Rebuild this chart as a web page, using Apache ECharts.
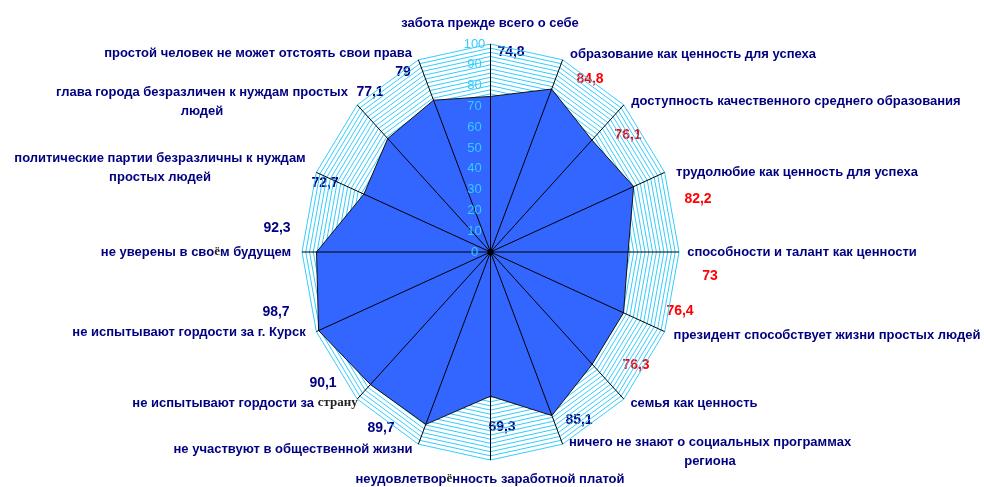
<!DOCTYPE html>
<html>
<head>
<meta charset="utf-8">
<script src="https://cdn.jsdelivr.net/npm/echarts@6/dist/echarts.min.js"></script>
<style>
  html, body { margin: 0; padding: 0; background: #fff; }
  #chart { width: 984px; height: 487px; }
</style>
</head>
<body>
<div id="chart"></div>
<script>
// indicators, clockwise from the top
const names = [
  'забота прежде всего о себе',
  'образование как ценность для успеха',
  'доступность качественного среднего образования',
  'трудолюбие как ценность для успеха',
  'способности и талант как ценности',
  'президент способствует жизни простых людей',
  'семья как ценность',
  'ничего не знают о социальных программах\nрегиона',
  'неудовлетворённость заработной платой',
  'не участвуют в общественной жизни',
  'не испытывают гордости за страну',
  'не испытывают гордости за г. Курск',
  'не уверены в своём будущем',
  'политические партии безразличны к нуждам\nпростых людей',
  'глава города безразличен к нуждам простых\nлюдей',
  'простой человек не может отстоять свои права'
]
const values = [74.8, 84.8, 76.1, 82.2, 73, 76.4, 76.3, 85.1, 69.3, 89.7, 90.1, 98.7, 92.3, 72.7, 77.1, 79]

// scale
const maxValue = 100
const tickStep = 10
const ringStep = 2

// label placement (centre of first line)
const nameAt = [
  [490, 23], [693, 54], [796, 101], [797, 172], [802, 252], [827, 335], [694, 403], [710, 442],
  [490, 479], [293, 449], [245, 403], [189, 332], [196, 252], [160, 158], [202, 92], [258, 53]
]
const valueAt = [
  [511, 52], [590, 79], [628, 135], [698, 199], [710, 276], [680, 311], [636, 365], [579, 420],
  [502, 427], [381, 428], [323, 383], [276, 312], [277, 228], [325, 183], [370, 92], [403, 72]
]
const redValues = [1, 2, 3, 4, 5, 6]

const NAVY = '#000080'
const RED = '#ff0000'
const CYAN = '#33ccff'
const FILL = '#3366ff'

const GRID_W = 377
const chart = echarts.init(document.getElementById('chart'))

// point on spoke i at value v, through the grid's value axes
const pt = (api, i, v) => {
  const a = i * 2 * Math.PI / names.length
  return api.coord([v * Math.sin(a), v * Math.cos(a)])
}

// some words were typed in another font in the original
const richName = s => s.replace('страну', '{s|страну}').replace('ё', '{e|ё}')

const graphics = []
names.forEach((n, i) => {
  graphics.push({
    type: 'text', x: nameAt[i][0], y: nameAt[i][1] - 9.5, silent: true,
    style: {
      text: richName(n), align: 'center', verticalAlign: 'top', lineHeight: 19,
      font: 'bold 13px "Liberation Sans", Arial, sans-serif', fill: NAVY,
      rich: {
        s: { fontFamily: '"Liberation Serif", serif', fontWeight: 'bold', fontSize: 13, fill: '#222', lineHeight: 19 },
        e: { fontFamily: '"Liberation Serif", serif', fontWeight: 'bold', fontSize: 13, fill: '#222', lineHeight: 19 }
      }
    }
  })
  graphics.push({
    type: 'text', x: valueAt[i][0], y: valueAt[i][1], silent: true,
    style: {
      text: String(values[i]).replace('.', ','), align: 'center', verticalAlign: 'middle',
      font: 'bold 14px "Liberation Sans", Arial, sans-serif',
      fill: redValues.includes(i) ? RED : NAVY
    }
  })
})

chart.setOption({
  animation: false,
  grid: { left: 302, top: 44, width: GRID_W, height: 416 },
  xAxis: { type: 'value', min: -maxValue, max: maxValue, show: false },
  yAxis: {
    // moved to the centre line so its labels sit on the top spoke
    type: 'value', min: -maxValue, max: maxValue, interval: tickStep, z: 10,
    offset: -GRID_W / 2,
    axisLine: { show: false, onZero: false },
    axisTick: { show: false },
    splitLine: { show: false },
    axisLabel: {
      align: 'center', margin: 16, color: CYAN, fontSize: 13,
      fontFamily: '"Liberation Sans", Arial, sans-serif',
      formatter: v => (v >= 0 ? String(v) : '')
    }
  },
  series: [
    {
      // grid rings
      type: 'custom', silent: true, clip: false, z: 1,
      data: [[0, 0]],
      renderItem: (params, api) => {
        const children = []
        for (let lv = ringStep; lv <= maxValue; lv += ringStep) {
          children.push({
            type: 'polygon',
            shape: { points: names.map((_, i) => pt(api, i, lv)) },
            style: { fill: 'none', stroke: CYAN, lineWidth: 1 }
          })
        }
        return { type: 'group', children }
      }
    },
    {
      // values
      type: 'custom', silent: true, clip: false, z: 2,
      data: [[0, 0]],
      renderItem: (params, api) => ({
        type: 'polygon',
        shape: { points: values.map((v, i) => pt(api, i, v)) },
        style: { fill: FILL, stroke: '#111', lineWidth: 1 }
      })
    },
    {
      // spokes
      type: 'custom', silent: true, clip: false, z: 3,
      data: [[0, 0]],
      renderItem: (params, api) => {
        const c = api.coord([0, 0])
        return {
          type: 'group',
          children: names.map((_, i) => {
            const p = pt(api, i, maxValue)
            return {
              type: 'line',
              shape: { x1: c[0], y1: c[1], x2: p[0], y2: p[1] },
              style: { stroke: '#000', lineWidth: 1 }
            }
          }).concat([{ type: 'circle', shape: { cx: c[0], cy: c[1], r: 3 }, style: { fill: '#000' } }])
        }
      }
    }
  ],
  graphic: graphics
})
</script>
</body>
</html>
